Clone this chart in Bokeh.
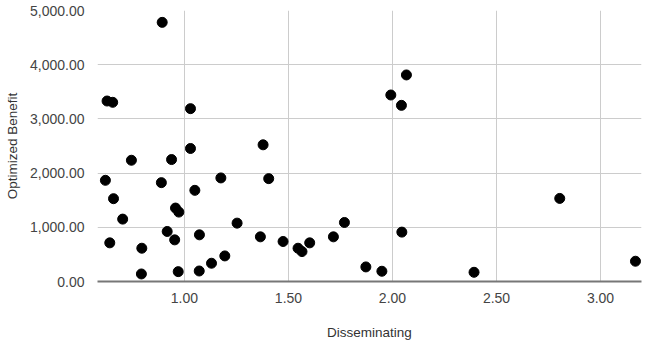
from bokeh.plotting import figure
from bokeh.models import Range1d, SingleIntervalTicker, NumeralTickFormatter
from bokeh.embed import file_html
from bokeh.resources import INLINE

disseminating = [0.893, 0.628, 0.655, 1.029, 0.745, 0.938, 1.029, 1.378,
                 0.620, 0.889, 1.175, 1.405, 1.050, 0.659, 0.703, 0.957,
                 0.973, 1.253, 0.917, 0.953, 1.072, 0.641, 0.795, 0.793,
                 0.970, 1.071, 1.130, 1.194, 1.365, 1.474, 1.546, 1.565,
                 1.602, 1.716, 1.769, 1.872, 1.949, 2.045, 2.392, 2.804,
                 3.168, 2.067, 1.992, 2.043]
optimized_benefit = [4781, 3330, 3306, 3189, 2237, 2250, 2454, 2522,
                     1867, 1824, 1911, 1898, 1682, 1528, 1151, 1355,
                     1281, 1077, 923, 768, 861, 713, 614, 139,
                     182, 194, 337, 472, 824, 738, 614, 552,
                     713, 824, 1089, 269, 189, 911, 170, 1533,
                     374, 3811, 3441, 3250]

x_title = "Disseminating"
y_title = "Optimized Benefit"

p = figure(width=648, height=348, output_backend="svg", toolbar_location=None,
           x_range=Range1d(0.582, 3.197), y_range=Range1d(0, 5000),
           min_border_left=97, min_border_right=7, min_border_top=10,
           min_border_bottom=67)
p.outline_line_color = None
p.background_fill_color = "white"
p.border_fill_color = "white"

p.scatter(disseminating, optimized_benefit, size=10, color="black")

font = "Liberation Sans"
for ax in (p.xaxis[0], p.yaxis[0]):
    ax.major_tick_line_color = None
    ax.minor_tick_line_color = None
    ax.major_label_text_font = font
    ax.major_label_text_font_size = "14px"
    ax.major_label_text_color = "#444444"
    ax.axis_label_text_font = font
    ax.axis_label_text_font_size = "13.5px"
    ax.axis_label_text_color = "#333333"
    ax.axis_label_text_font_style = "normal"

p.xaxis.ticker = SingleIntervalTicker(interval=0.5)
p.yaxis.ticker = SingleIntervalTicker(interval=1000)
p.xaxis.formatter = NumeralTickFormatter(format="0.00")
p.yaxis.formatter = NumeralTickFormatter(format="0,0.00")
p.xaxis.axis_label = x_title
p.yaxis.axis_label = y_title
p.xaxis.axis_line_color = "#777777"
p.xaxis.axis_line_width = 2
p.yaxis.axis_line_color = None
p.xaxis.major_label_standoff = 5
p.yaxis.major_label_standoff = 7
p.xaxis.axis_label_standoff = 19
p.yaxis.axis_label_standoff = 7

p.xgrid.grid_line_color = "#cccccc"
p.ygrid.grid_line_color = "#cccccc"
p.xgrid.ticker = SingleIntervalTicker(interval=0.5)
p.ygrid.ticker = SingleIntervalTicker(interval=1000)

open("out.html", "w").write(file_html(p, INLINE))
